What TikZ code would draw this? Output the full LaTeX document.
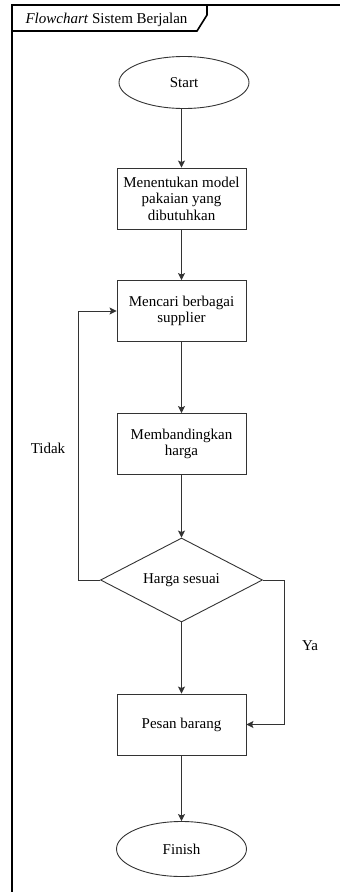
\documentclass[tikz,border=0pt]{standalone}
\usepackage{fontspec}
\setmainfont{Liberation Serif}
\usepackage{tikz}
\usepackage{xcolor}
\usetikzlibrary{positioning, arrows.meta, shapes.geometric}
\definecolor{Line_Gray}{HTML}{333333}

\begin{document}
\begin{tikzpicture}[x=1pt, y=-1pt,
  every node/.style={font=\fontsize{15}{16.5}\selectfont},
  arr/.style={-{Stealth[length=7pt, width=7pt, inset=1.5pt]}, line width=0.9pt, Line_Gray},
  block/.style={draw=Line_Gray, line width=0.9pt, minimum width=129pt,
    minimum height=61pt, inner sep=2pt, align=center},
  term/.style={ellipse, draw=Line_Gray, line width=0.9pt, minimum width=130pt,
    minimum height=#1, inner sep=0pt},
  term/.default={52pt},
  decision/.style={diamond, draw=Line_Gray, line width=0.9pt, aspect=1.93,
    minimum width=162pt, minimum height=84pt, inner sep=0pt}
]
  \useasboundingbox (0,0) rectangle (340,892);

  % Frame and title tab
  \draw[line width=2pt] (340,5) -- (12,5) -- (12,892);
  \draw[line width=1.6pt] (207,5) -- (207,15) -- (197,31) -- (12,31);
  \node[anchor=base west] (title) at (22,23) {\textit{Flowchart} Sistem Berjalan};

  % Flow
  \node[term] (start) at (184,82.5) {Start};
  \node[block] (tentukan) at (181.5,198.5) {Menentukan model\\pakaian yang\\dibutuhkan};
  \node[block] (cari) at (181.5,311) {Mencari berbagai\\supplier};
  \node[block] (banding) at (181.5,444) {Membandingkan\\harga};
  \node[decision] (harga) at (181.5,580) {Harga sesuai};
  \node[block] (pesan) at (181.5,724.5) {Pesan barang};
  \node[term=55pt] (finish) at (181.5,849) {Finish};

  % Arrows
  \draw[arr] (tentukan.north |- start.south) -- (tentukan);
  \draw[arr] (tentukan) -- (cari);
  \draw[arr] (cari) -- (banding);
  \draw[arr] (banding) -- (harga);
  \draw[arr] (harga) -- (pesan);
  \draw[arr] (pesan) -- (finish);

  % Branches
  \draw[arr] (harga.west) -- ++(-22,0) |- (cari.west);
  \draw[arr] (harga.east) -- ++(21.5,0) |- (pesan.east);
  \node (tidak) at (48,448) {Tidak};
  \node (ya) at (310,646) {Ya};
\end{tikzpicture}
\end{document}
